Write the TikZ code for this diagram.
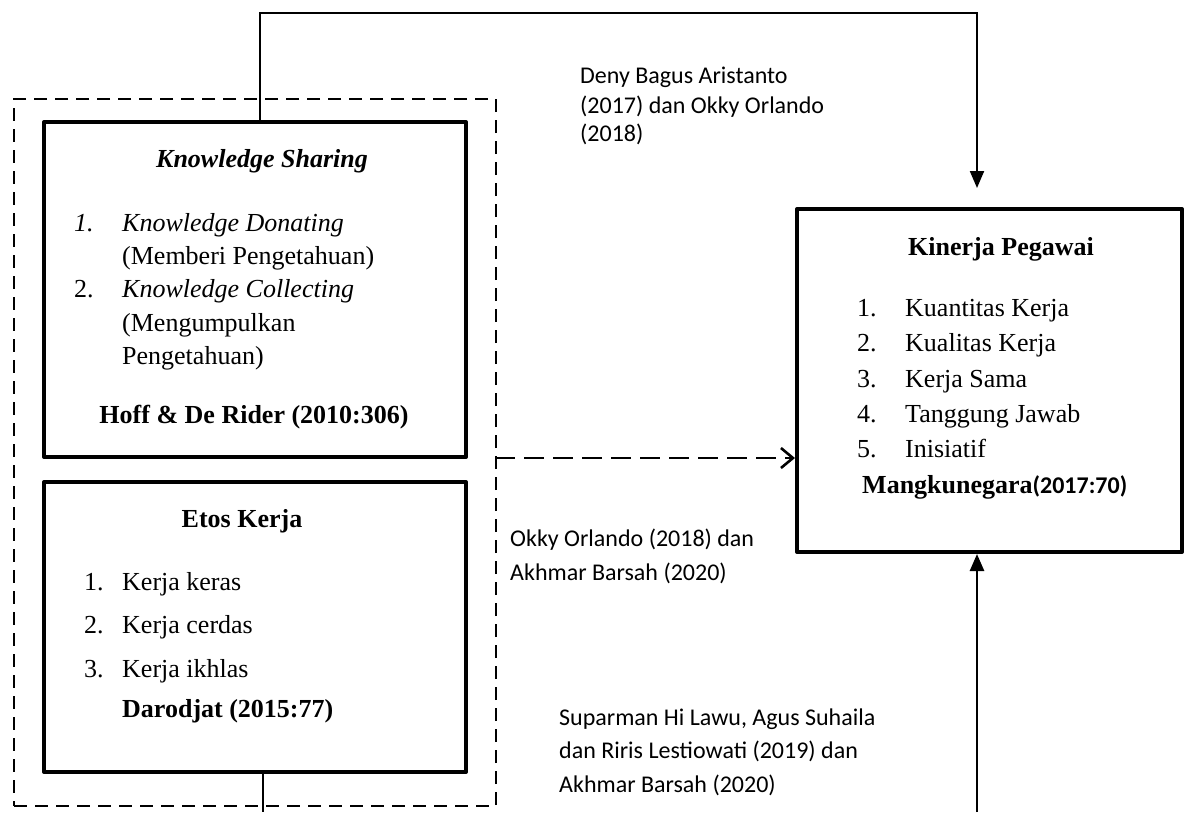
\documentclass[tikz,border=0pt]{standalone}
\usepackage{fontspec}
\setmainfont{Liberation Serif}
\newfontfamily\calfont{Carlito}
\usetikzlibrary{arrows.meta,calc}
\begin{document}
\begin{tikzpicture}[x=1pt,y=-1pt,
  box/.style={draw, line width=4pt, line join=round, inner sep=0pt, anchor=north west},
  grpbox/.style={draw, line width=2pt, dash pattern=on 13pt off 8pt, inner sep=0pt, anchor=north west},
  tx/.style={inner sep=0pt, font=\fontsize{26}{30}\selectfont},
  lab/.style={inner sep=0pt, anchor=base west, font=\calfont\fontsize{24}{28}\selectfont},
  conn/.style={draw, line width=2pt},
  dconn/.style={draw, line width=2.6pt, dash pattern=on 20pt off 9pt},
  tip/.style={-{Triangle[length=17pt,width=14pt]}},
  otip/.style={-{Straight Barb[length=12pt,width=20pt,line width=2.6pt]}}
]
\useasboundingbox (0,0) rectangle (1189,812);

% group and boxes
\node[grpbox, minimum width=482pt, minimum height=707pt] (grp) at (13,98) {};
\node[box, minimum width=422pt, minimum height=335pt] (ks) at (42,120) {};
\node[box, minimum width=422pt, minimum height=290pt] (ek) at (42,480) {};
\node[box, minimum width=385pt, minimum height=343pt] (kp) at (795,207) {};

% Knowledge Sharing
\node[tx, anchor=base] (ksT) at (262,167) {\textbf{\textit{Knowledge Sharing}}};
\node[tx, anchor=base west] (ks1n) at (74,231) {\textit{1.}};
\node[tx, anchor=base west] (ks1) at (122,231) {\textit{Knowledge Donating}};
\node[tx, anchor=base west] (ks1b) at (122,264) {(Memberi Pengetahuan)};
\node[tx, anchor=base west] (ks2n) at (74,297) {2.};
\node[tx, anchor=base west] (ks2) at (122,297) {\textit{Knowledge Collecting}};
\node[tx, anchor=base west] (ks2b) at (122,331) {(Mengumpulkan};
\node[tx, anchor=base west] (ks2c) at (122,364) {Pengetahuan)};
\node[tx, anchor=base] (ksR) at (254,423) {\textbf{Hoff \& De Rider (2010:306)}};

% Etos Kerja
\node[tx, anchor=base] (ekT) at (242,527) {\textbf{Etos Kerja}};
\node[tx, anchor=base west] (ek1n) at (84,590) {1.};
\node[tx, anchor=base west] (ek1) at (122,590) {Kerja keras};
\node[tx, anchor=base west] (ek2n) at (84,633) {2.};
\node[tx, anchor=base west] (ek2) at (122,633) {Kerja cerdas};
\node[tx, anchor=base west] (ek3n) at (84,677) {3.};
\node[tx, anchor=base west] (ek3) at (122,677) {Kerja ikhlas};
\node[tx, anchor=base west] (ekR) at (122,717) {\textbf{Darodjat (2015:77)}};

% Kinerja Pegawai
\node[tx, anchor=base] (kpT) at (1001,255) {\textbf{Kinerja Pegawai}};
\node[tx, anchor=base west] (kp1n) at (857,316) {1.};
\node[tx, anchor=base west] (kp1) at (905,316) {Kuantitas Kerja};
\node[tx, anchor=base west] (kp2n) at (857,351) {2.};
\node[tx, anchor=base west] (kp2) at (905,351) {Kualitas Kerja};
\node[tx, anchor=base west] (kp3n) at (857,387) {3.};
\node[tx, anchor=base west] (kp3) at (905,387) {Kerja Sama};
\node[tx, anchor=base west] (kp4n) at (857,422) {4.};
\node[tx, anchor=base west] (kp4) at (905,422) {Tanggung Jawab};
\node[tx, anchor=base west] (kp5n) at (857,457) {5.};
\node[tx, anchor=base west] (kp5) at (905,457) {Inisiatif};
\node[tx, anchor=base west] (kpR) at (862,493) {\textbf{Mangkunegara{\calfont\fontsize{24}{28}\selectfont(2017:70)}}};

% labels
\node[lab] (la1) at (580,83) {Deny Bagus Aristanto};
\node[lab] (la2) at (580,113) {(2017) dan Okky Orlando};
\node[lab] (la3) at (580,141) {(2018)};
\node[lab] (lb1) at (510,546) {Okky Orlando (2018) dan};
\node[lab] (lb2) at (510,580) {Akhmar Barsah (2020)};
\node[lab] (lc1) at (559,725) {Suparman Hi Lawu, Agus Suhaila};
\node[lab] (lc2) at (559,758) {dan Riris Lestiowati (2019) dan};
\node[lab] (lc3) at (559,792) {Akhmar Barsah (2020)};

% connectors
\coordinate (tl) at (260,13);
\coordinate (tr) at (977,13);
\draw[conn, tip, shorten >=19pt] (ks.north -| tl) -- (tl) -- (tr) -- (kp.north -| tr);

\coordinate (da) at (495,458);
\draw[dconn, otip] (da) -- (kp.west |- da);

\coordinate (b1) at (263,812);
\draw[conn] (ek.south -| b1) -- (b1);

\coordinate (b2) at (977,812);
\draw[conn, line width=2.6pt, tip] (b2) -- (kp.south -| b2);
\end{tikzpicture}
\end{document}
